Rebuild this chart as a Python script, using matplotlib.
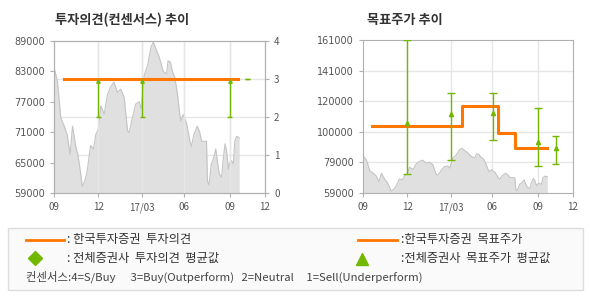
import matplotlib
matplotlib.use("Agg")
import matplotlib.pyplot as plt
from matplotlib.patches import Rectangle
from matplotlib.lines import Line2D

plt.rcParams['font.family'] = ['Noto Sans CJK KR', 'DejaVu Sans']

# 주가 (days since 2016-09-01)
price_days = [0, 7, 14, 21, 27, 33, 38, 45, 49, 55, 58, 63, 68, 75, 81, 86, 91, 96,
              103, 110, 116, 123, 130, 137, 144, 151, 154, 161, 168, 175, 179, 185,
              192, 199, 204, 209, 216, 224, 231, 234, 239, 243, 248, 253, 257, 260,
              265, 272, 279, 282, 287, 294, 299, 303, 308, 313, 315, 318, 323, 328,
              332, 335, 339, 344, 347, 351, 354, 358, 361, 364, 368, 371, 375, 380]
price = [83800, 81100, 73800, 72200, 70500, 66600, 72200, 68000, 66600, 62700, 60300,
         61300, 63300, 68400, 67700, 70600, 71600, 76200, 74600, 78500, 79900, 80900,
         78900, 79500, 77900, 71300, 70900, 73900, 76600, 77000, 75600, 82200, 84200,
         87800, 88800, 87500, 85800, 83000, 82500, 85100, 84800, 83000, 81800, 78800,
         75400, 73200, 74500, 72800, 69200, 68200, 70500, 72200, 71000, 69200, 69200,
         69200, 61300, 60600, 64800, 66000, 67700, 65400, 62800, 62100, 65400, 68700,
         67400, 63700, 65100, 65400, 64800, 69200, 70200, 69900]

tick_days = [0, 91, 181, 267, 361, 433]
tick_labels = ['09', '12', '17/03', '06', '09', '12']

# 투자의견
opinion_start, opinion_end, opinion_value = 20, 378, 3
op_days = [91, 181, 361, 397]
op_low = [2, 2, 2, 3]
op_high = [3, 3, 3, 3]
op_avg_days = [91, 181, 361]
op_avg = [2.96, 2.96, 2.96]

# 목표주가
tp_days = [18, 204, 279, 314, 379]
tp_values = [103500, 117000, 99000, 89000, 89000]
tg_days = [91, 181, 268, 361, 397]
tg_low = [71900, 81300, 94600, 76800, 78600]
tg_high = [161000, 126000, 126000, 116000, 97300]
tg_avg = [105800, 111600, 112400, 92800, 89000]
tp_ticks = [59000, 79400, 99800, 120200, 140600, 161000]
tp_tick_labels = ['59000', '79000', '100000', '120000', '141000', '161000']

ORANGE = '#ff7700'
GREEN = '#72b800'
GRID = '#e6e6e6'
SPINE = '#b0b0b0'
TXT = '#555555'

fig = plt.figure(figsize=(5.9, 3.0), dpi=100)


def px(x0, y0, x1, y1):
    return [x0 / 590, 1 - y1 / 300, (x1 - x0) / 590, (y1 - y0) / 300]


def style(ax):
    for s in ax.spines.values():
        s.set_color(SPINE)
    ax.tick_params(colors=SPINE, labelcolor=TXT, labelsize=7, length=3, width=0.8)
    ax.set_xticks(tick_days)
    ax.set_xticklabels(tick_labels)
    ax.set_xlim(0, 433)
    for d in tick_days[1:-1]:
        ax.axvline(d, color=GRID, lw=1, zorder=0)


# ---- 투자의견 ----
ax1 = fig.add_axes(px(54, 41, 265, 193))
style(ax1)
ax1.fill_between(price_days, 59000, price, color='#e0e0e0', zorder=1, lw=0)
ax1.plot(price_days, price, color='#c4c4c4', lw=0.8, zorder=2)
ax1.set_ylim(59000, 89000)
ax1.set_yticks([59000, 65000, 71000, 77000, 83000, 89000])
for t in ax1.get_yticklabels():
    t.set_family('DejaVu Sans')

ax1r = ax1.twinx()
style(ax1r)
ax1r.set_ylim(0, 4)
ax1r.set_yticks([0, 1, 2, 3, 4])
for y in [1, 2, 3]:
    ax1.axhline(59000 + y * 7500, color=GRID, lw=1, zorder=0)
ax1r.hlines(op_high, [d - 5 for d in op_days], [d + 5 for d in op_days], color=GREEN, lw=1, zorder=2)
ax1r.plot([opinion_start, opinion_end], [opinion_value, opinion_value], color=ORANGE, lw=2.2, zorder=3)
ax1r.vlines(op_days, op_low, op_high, color=GREEN, lw=1, zorder=4)
ax1r.hlines(op_low, [d - 5 for d in op_days], [d + 5 for d in op_days], color=GREEN, lw=1, zorder=4)
ax1r.plot(op_avg_days, op_avg, '^', color=GREEN, ms=2.5, zorder=4)
ax1r.set_xlim(0, 433)

fig.text(55 / 590, 1 - 20 / 300, '투자의견(컨센서스) 추이', fontsize=9.5, fontweight='bold',
         color='#333333', va='center')

# ---- 목표주가 ----
ax2 = fig.add_axes(px(363, 40, 573, 193))
style(ax2)
ax2.fill_between(price_days, 59000, price, color='#e0e0e0', zorder=1, lw=0)
ax2.plot(price_days, price, color='#c4c4c4', lw=0.8, zorder=2)
ax2.set_ylim(59000, 161000)
ax2.set_yticks(tp_ticks)
ax2.set_yticklabels(tp_tick_labels, family='DejaVu Sans')
for t in tp_ticks[1:-1]:
    ax2.axhline(t, color=GRID, lw=1, zorder=0)
ax2.plot(tp_days, tp_values, drawstyle='steps-post', color=ORANGE, lw=2.2, zorder=3)
ax2.vlines(tg_days, tg_low, tg_high, color=GREEN, lw=1, zorder=4)
ax2.hlines(tg_low, [d - 8 for d in tg_days], [d + 8 for d in tg_days], color=GREEN, lw=1, zorder=4)
ax2.hlines(tg_high, [d - 8 for d in tg_days], [d + 8 for d in tg_days], color=GREEN, lw=1, zorder=4)
ax2.plot(tg_days, tg_avg, '^', color=GREEN, ms=3, zorder=5)

fig.text(367 / 590, 1 - 20 / 300, '목표주가 추이', fontsize=9.5, fontweight='bold',
         color='#333333', va='center')

# ---- 범례 ----
fig.patches.append(Rectangle((8 / 590, 1 - 290 / 300), 575 / 590, 62 / 300,
                             transform=fig.transFigure, facecolor='#fafafa',
                             edgecolor='#dddddd', lw=1))


def fx(x):
    return x / 590


def fy(y):
    return 1 - y / 300


fig.lines.append(Line2D([fx(26), fx(64)], [fy(240), fy(240)], transform=fig.transFigure,
                        color=ORANGE, lw=2))
fig.lines.append(Line2D([fx(358), fx(397)], [fy(240), fy(240)], transform=fig.transFigure,
                        color=ORANGE, lw=2))
fig.lines.append(Line2D([fx(35)], [fy(258)], transform=fig.transFigure, marker='D',
                        color=GREEN, ms=7, lw=0))
fig.lines.append(Line2D([fx(362)], [fy(259)], transform=fig.transFigure, marker='^',
                        color=GREEN, ms=8, lw=0))
kw = dict(fontsize=8.8, color='#333333', va='center')
fig.text(fx(67), fy(240), ': 한국투자증권  투자의견', **kw)
fig.text(fx(67), fy(258), ': 전체증권사  투자의견  평균값', **kw)
fig.text(fx(401), fy(240), ':한국투자증권  목표주가', **kw)
fig.text(fx(401), fy(258), ':전체증권사  목표주가  평균값', **kw)
fig.text(fx(26), fy(277), '컨센서스:4=S/Buy      3=Buy(Outperform)   2=Neutral     1=Sell(Underperform)',
         fontsize=8.2, color='#444444', va='center')

fig.savefig('out.png', dpi=100)
